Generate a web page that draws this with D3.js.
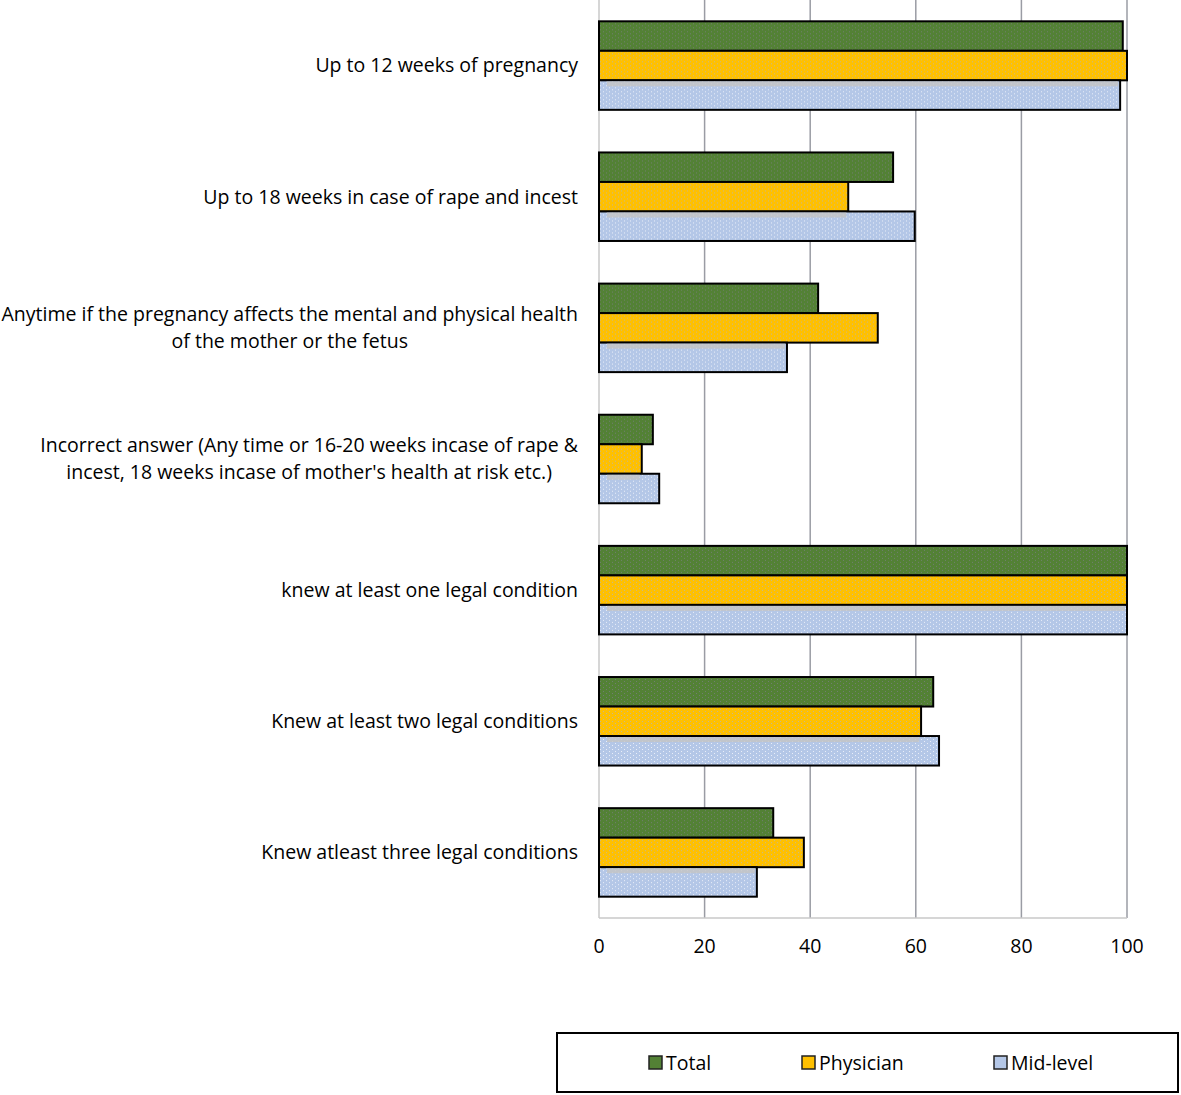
<!DOCTYPE html>
<html>
<head>
<meta charset="utf-8">
<script src="https://cdn.jsdelivr.net/npm/d3@7"></script>
<style>
  html, body { margin: 0; padding: 0; background: #fff; }
  svg { display: block; }
</style>
</head>
<body>
<svg id="chart" width="1181" height="1095"></svg>
<script>
// ---- data ----
const categories = [
  ["Up to 12 weeks of pregnancy"],
  ["Up to 18 weeks in case of rape and incest"],
  ["Anytime if the pregnancy affects the mental and physical health", "of the mother or the fetus"],
  ["Incorrect answer (Any time or 16-20 weeks incase of rape &", "incest, 18 weeks incase of mother's health at risk etc.)"],
  ["knew at least one legal condition"],
  ["Knew at least two legal conditions"],
  ["Knew atleast three legal conditions"]
];
const seriesNames = ["Total", "Physician", "Mid-level"];
const totalValues     = [99.2, 55.7, 41.5, 10.2, 100, 63.3, 33.0];
const physicianValues = [100, 47.2, 52.8, 8.1, 100, 61.0, 38.8];
const midlevelValues  = [98.7, 59.8, 35.6, 11.4, 100, 64.4, 29.9];
const tickValues = [0, 20, 40, 60, 80, 100];

const seriesValues = [totalValues, physicianValues, midlevelValues];
const colors = ["#538135", "#FFC000", "#B4C7E7"];

// ---- layout ----
const svg = d3.select("#chart");
const FONT = "'Open Sans', Lato, sans-serif";
const FS = 19.5;
const plot = { left: 599, right: 1127, top: 0, bottom: 918 };

const x = d3.scaleLinear().domain([0, 100]).range([plot.left, plot.right]);
const y0 = d3.scaleBand().domain(d3.range(categories.length)).range([plot.top, plot.bottom]).paddingInner(0.325).paddingOuter(0.1625);
const y1 = d3.scaleBand().domain(d3.range(seriesNames.length)).range([0, y0.bandwidth()]);

// patterns (speckled texture)
const defs = svg.append("defs");
const speck = [
  { id: "p0", base: colors[0], dot: "#8a7fa0", op: 0.55 },
  { id: "p1", base: colors[1], dot: "#a9b4d6", op: 0.7 },
  { id: "p2", base: colors[2], dot: "#ffffff", op: 0.7 }
];
speck.forEach((s) => {
  const p = defs.append("pattern").attr("id", s.id).attr("patternUnits", "userSpaceOnUse")
    .attr("width", 6).attr("height", 4);
  p.append("rect").attr("width", 6).attr("height", 4).attr("fill", s.base);
  p.append("rect").attr("x", 0).attr("y", 0).attr("width", 1).attr("height", 1).attr("fill", s.dot).attr("opacity", s.op);
  p.append("rect").attr("x", 3).attr("y", 2).attr("width", 1).attr("height", 1).attr("fill", s.dot).attr("opacity", s.op);
});

// gridlines
svg.append("g")
  .selectAll("line")
  .data(tickValues.filter(d => d > 0))
  .join("line")
  .attr("x1", d => x(d)).attr("x2", d => x(d))
  .attr("y1", plot.top).attr("y2", plot.bottom)
  .attr("stroke", "#9a9ca4").attr("stroke-width", 1.5);

// left axis line & bottom
svg.append("line").attr("x1", plot.left).attr("x2", plot.left).attr("y1", plot.top).attr("y2", plot.bottom)
  .attr("stroke", "#c8c8c8").attr("stroke-width", 1.5);
svg.append("line").attr("x1", plot.left).attr("x2", plot.right).attr("y1", plot.bottom).attr("y2", plot.bottom)
  .attr("stroke", "#c8c8c8").attr("stroke-width", 1.5);

// bars
const groups = svg.append("g").selectAll("g")
  .data(categories.map((c, i) => i))
  .join("g")
  .attr("transform", i => `translate(0,${y0(i)})`);

groups.each(function(i) {
  const g = d3.select(this);
  seriesNames.forEach((s, j) => {
    const v = seriesValues[j][i];
    g.append("rect")
      .attr("x", x(0))
      .attr("y", y1(j))
      .attr("width", x(v) - x(0))
      .attr("height", y1.bandwidth())
      .attr("fill", `url(#p${j})`)
      .attr("stroke", "#000")
      .attr("stroke-width", 2);
    if (j === 2) {
      // faint shadow under the bar above
      g.append("rect")
        .attr("x", x(0) + 8)
        .attr("y", y1(j) + 1)
        .attr("width", Math.max(0, Math.min(x(seriesValues[1][i]), x(v)) - x(0) - 10))
        .attr("height", 5)
        .attr("fill", "#c4c4c4")
        .attr("opacity", 0.8);
    }
  });
});

// category labels
const labelG = svg.append("g");
categories.forEach((lines, i) => {
  const cy = y0(i) + y0.bandwidth() / 2;
  const lh = 27;
  const t = labelG.append("text")
    .attr("font-family", FONT).attr("font-size", FS).attr("fill", "#000")
    .attr("text-anchor", "middle");
  lines.forEach((ln, k) => {
    t.append("tspan").attr("data-k", k).text(ln)
      .attr("y", cy + (k - (lines.length - 1) / 2) * lh)
      .attr("dy", "0.35em");
  });
  // right-align block at 578, center lines within block
  const widths = [];
  t.selectAll("tspan").each(function() { widths.push(this.getComputedTextLength()); });
  const w = d3.max(widths);
  t.selectAll("tspan").attr("x", 578 - w / 2);
});

// x tick labels
svg.append("g").selectAll("text")
  .data(tickValues)
  .join("text")
  .attr("x", d => x(d)).attr("y", 946).attr("dy", "0.35em")
  .attr("text-anchor", "middle")
  .attr("font-family", FONT).attr("font-size", FS).attr("fill", "#000")
  .text(d => d);

// legend
const legend = svg.append("g");
legend.append("rect").attr("x", 557).attr("y", 1033).attr("width", 621).attr("height", 59)
  .attr("fill", "#fff").attr("stroke", "#000").attr("stroke-width", 2);
const legendX = [649, 802, 994];
seriesNames.forEach((s, j) => {
  legend.append("rect").attr("x", legendX[j]).attr("y", 1056).attr("width", 13).attr("height", 13)
    .attr("fill", colors[j]).attr("stroke", "#222").attr("stroke-width", 1.5);
  legend.append("text").attr("x", legendX[j] + 17).attr("y", 1063).attr("dy", "0.35em")
    .attr("font-family", FONT).attr("font-size", FS).attr("fill", "#000").text(s);
});
</script>
</body>
</html>
